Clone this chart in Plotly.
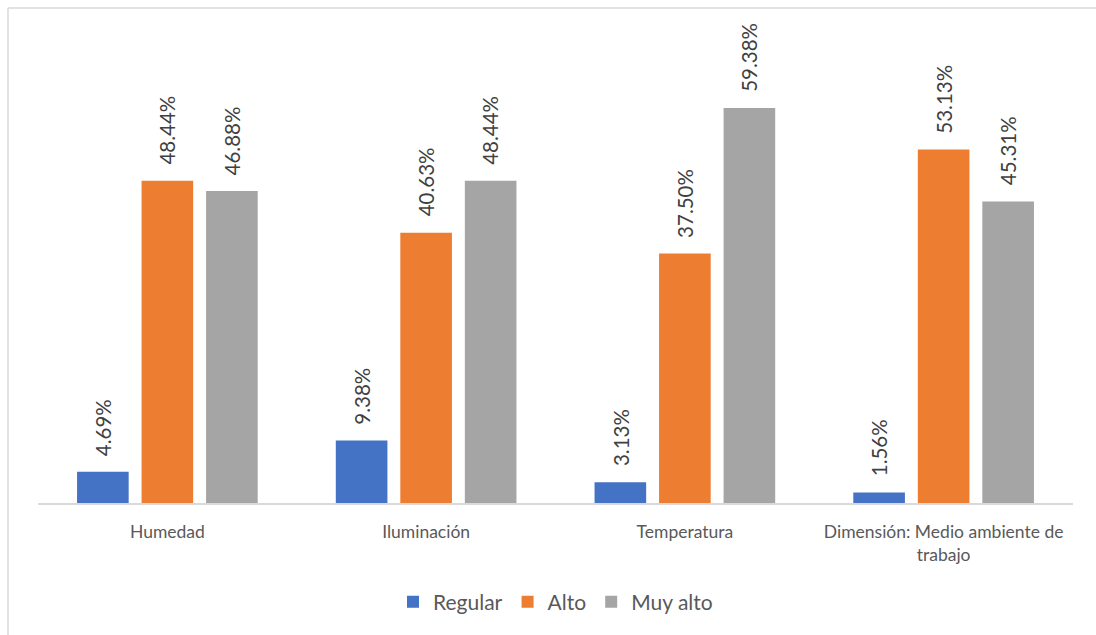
import plotly.graph_objects as go

categories = ["Humedad", "Iluminación", "Temperatura", "Dimensión: Medio ambiente de<br>trabajo"]
series_names = ["Regular", "Alto", "Muy alto"]
regular = [4.69, 9.38, 3.13, 1.56]
alto = [48.44, 40.63, 37.50, 53.13]
muy_alto = [46.88, 48.44, 59.38, 45.31]
colors = ["#4472C4", "#ED7D31", "#A5A5A5"]

FONT = "Lato, Open Sans, sans-serif"
fig = go.Figure()
all_values = [regular, alto, muy_alto]
for name, vals, col in zip(series_names, all_values, colors):
    fig.add_trace(go.Bar(x=categories, y=vals, name=name, marker=dict(color=col, line=dict(width=0)),
                         hoverinfo="skip"))

slot_px = 64.5
for i, vals in enumerate(all_values):
    for c, v in zip(categories, vals):
        fig.add_annotation(x=c, y=v, xref="x", yref="y", text=f"{v:.2f}%", showarrow=False,
                           textangle=-90, yanchor="bottom", xanchor="center",
                           xshift=(i - 1) * slot_px, yshift=14,
                           font=dict(family=FONT, size=20.5, color="#404040"))

# outer chart border (top and left edges)
fig.add_shape(type="line", xref="paper", yref="paper", x0=-0.029, x1=1.05, y0=1.0248, y1=1.0248,
              line=dict(color="#D9D9D9", width=1.5))
fig.add_shape(type="line", xref="paper", yref="paper", x0=-0.029, x1=-0.029, y0=-0.4, y1=1.0248,
              line=dict(color="#D9D9D9", width=1.5))

fig.update_layout(
    width=1096, height=635,
    margin=dict(l=38, r=23, t=20, b=132),
    paper_bgcolor="white", plot_bgcolor="white",
    barmode="group", bargap=0.252, bargroupgap=0.2,
    showlegend=True,
    legend=dict(orientation="h", x=0.5, xanchor="center", y=-0.205, yanchor="middle",
                font=dict(family=FONT, size=21, color="#595959"), itemwidth=30, traceorder="normal"),
    xaxis=dict(showline=True, linecolor="#D9D9D9", linewidth=1.5, ticks="", showgrid=False,
               ticklabelstandoff=12,
               tickfont=dict(family=FONT, size=17.5, color="#595959"), fixedrange=True),
    yaxis=dict(range=[0, 72.6], visible=False, showgrid=False, fixedrange=True),
    font=dict(family=FONT),
)

fig.write_html("out.html")
